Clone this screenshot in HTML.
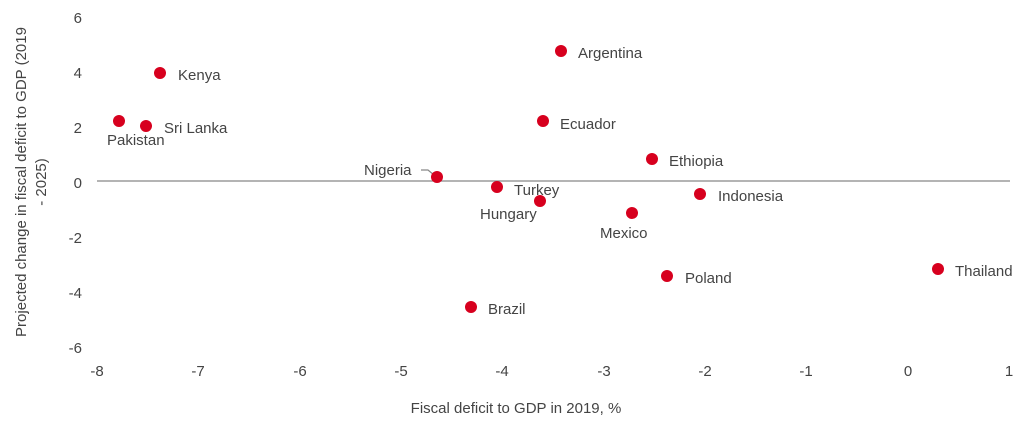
<!DOCTYPE html>
<html><head><style>body{margin:0;background:#fff}</style></head><body>
<svg width="1036" height="427" xmlns="http://www.w3.org/2000/svg" font-family="Liberation Sans, sans-serif" font-size="15" fill="#444">
<line x1="97" y1="181" x2="1010" y2="181" stroke="#888" stroke-width="1.2"/>
<g text-anchor="end">
<text x="82" y="23">6</text><text x="82" y="78">4</text><text x="82" y="133">2</text><text x="82" y="188">0</text><text x="82" y="243">-2</text><text x="82" y="298">-4</text><text x="82" y="353">-6</text>
</g>
<g text-anchor="middle">
<text x="97" y="376">-8</text><text x="198" y="376">-7</text><text x="300" y="376">-6</text><text x="401" y="376">-5</text><text x="502" y="376">-4</text><text x="604" y="376">-3</text><text x="705" y="376">-2</text><text x="806" y="376">-1</text><text x="908" y="376">0</text><text x="1009" y="376">1</text>
<text x="516" y="413">Fiscal deficit to GDP in 2019, %</text>
<text transform="translate(26,182) rotate(-90)">Projected change in fiscal deficit to GDP (2019</text>
<text transform="translate(46,182) rotate(-90)">- 2025)</text>
</g>
<path d="M421,170 L428,170 L434,175" fill="none" stroke="#888" stroke-width="1.2"/>
<g fill="#d7001e">
<circle cx="160" cy="73" r="6"/><circle cx="119" cy="121" r="6"/><circle cx="146" cy="126" r="6"/><circle cx="561" cy="51" r="6"/><circle cx="543" cy="121" r="6"/><circle cx="652" cy="159" r="6"/><circle cx="437" cy="177" r="6"/><circle cx="497" cy="187" r="6"/><circle cx="540" cy="201" r="6"/><circle cx="700" cy="194" r="6"/><circle cx="632" cy="213" r="6"/><circle cx="667" cy="276" r="6"/><circle cx="938" cy="269" r="6"/><circle cx="471" cy="307" r="6"/>
</g>
<text x="178" y="80">Kenya</text>
<text x="107" y="145">Pakistan</text>
<text x="164" y="133">Sri Lanka</text>
<text x="578" y="58">Argentina</text>
<text x="560" y="129">Ecuador</text>
<text x="669" y="166">Ethiopia</text>
<text x="364" y="175">Nigeria</text>
<text x="514" y="195">Turkey</text>
<text x="480" y="219">Hungary</text>
<text x="718" y="201">Indonesia</text>
<text x="600" y="238">Mexico</text>
<text x="685" y="283">Poland</text>
<text x="955" y="276">Thailand</text>
<text x="488" y="314">Brazil</text>
</svg>
</body></html>
